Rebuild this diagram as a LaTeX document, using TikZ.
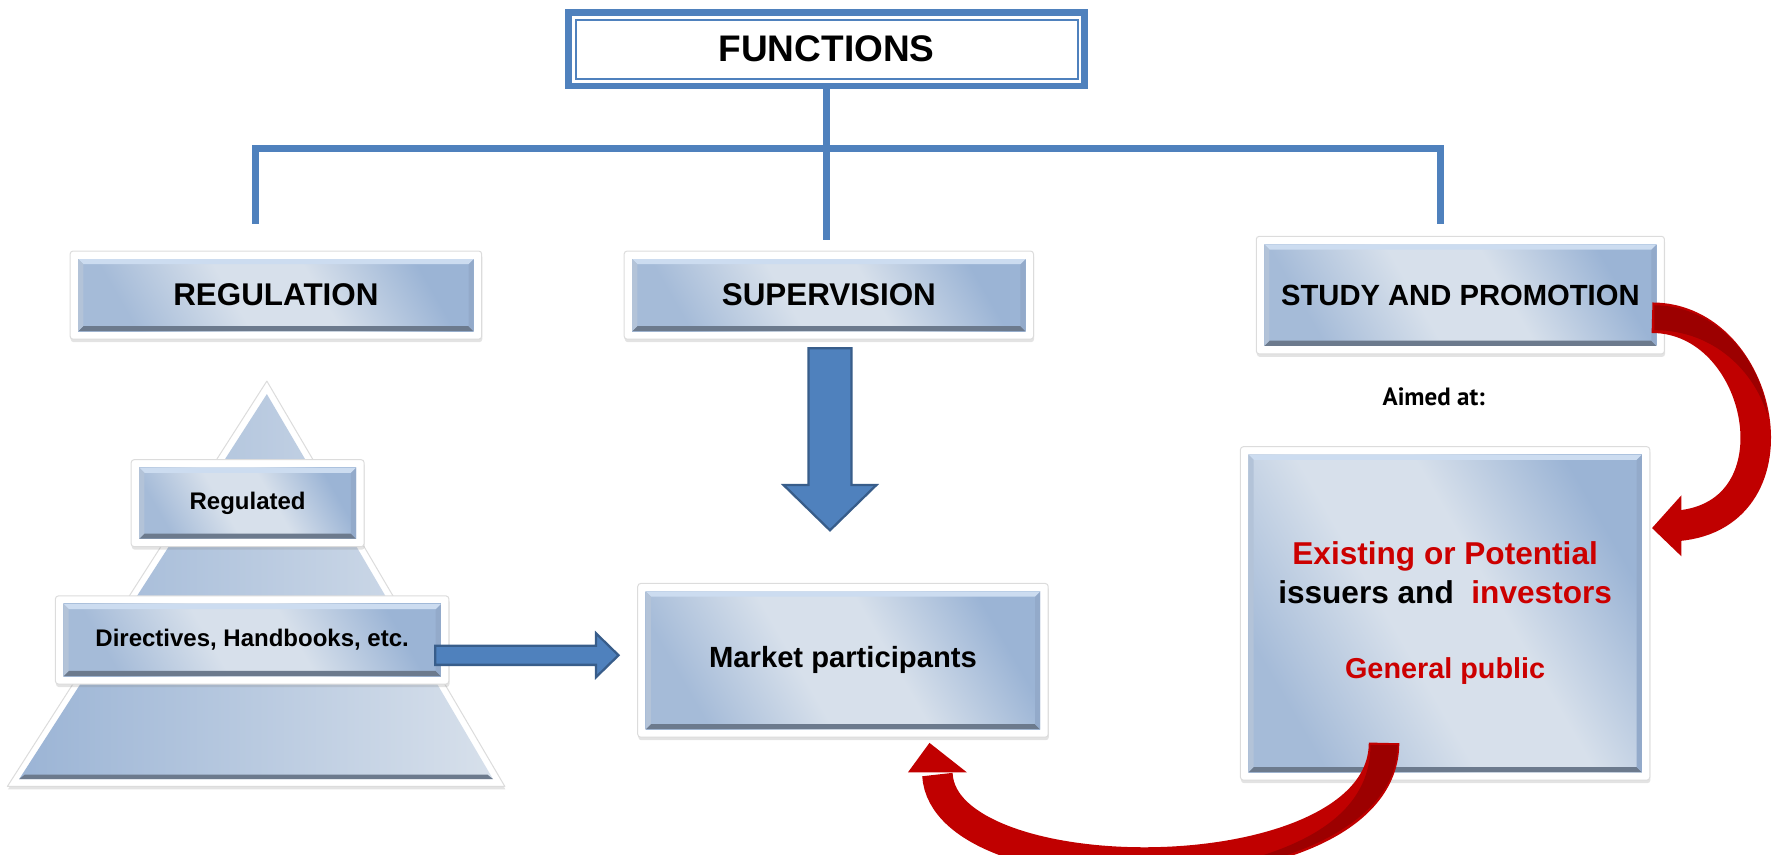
\documentclass[tikz,border=0pt]{standalone}
\usepackage{fontspec}
\setmainfont{Liberation Sans}
\newfontfamily\ptsans{PT Sans}
\usetikzlibrary{arrows.meta,shadows,calc}
\definecolor{fblue}{HTML}{4F81BD}
\definecolor{fbluedk}{HTML}{385D8A}
\definecolor{bxlight}{HTML}{D7E0EB}
\definecolor{bxdark}{HTML}{9BB4D5}
\definecolor{bxdarkb}{HTML}{A5BBD8}
\definecolor{bvtop}{HTML}{CCDCF0}
\definecolor{bvbot}{HTML}{6C7A8D}
\definecolor{bvleft}{HTML}{B3C3D8}
\definecolor{bvright}{HTML}{93AACA}
\definecolor{frame}{HTML}{DCDCDC}
\definecolor{rmain}{HTML}{C00000}
\definecolor{rdark}{HTML}{9C0000}
\definecolor{tred}{HTML}{CC0000}
\pgfdeclareverticalshading{bxshade}{100bp}{color(0bp)=(bxdarkb); color(25bp)=(bxdarkb); color(43bp)=(bxlight); color(57bp)=(bxlight); color(75bp)=(bxdark); color(100bp)=(bxdark)}
\def\U{0.5654pt}
\def\ins{4pt}
\def\bv{2.6pt}
\begin{document}
\begin{tikzpicture}[x=0.5654pt,y=-0.5654pt,
  tree/.style={draw=fblue, line width=6*\U},
  bevelbox/.style={rectangle, rounded corners=1.5pt, fill=white, draw=frame, line width=0.5pt,
    inner sep=0pt, outer sep=0pt, align=center,
    drop shadow={shadow xshift=0.3pt, shadow yshift=-1.5pt, opacity=0.22},
    path picture={
      \begin{scope}[sharp corners]
      \path ([shift={(\ins,\ins)}]path picture bounding box.south west) coordinate (pA)
            ([shift={(-\ins,-\ins)}]path picture bounding box.north east) coordinate (pC);
      \path (pC |- pA) coordinate (pB) (pA |- pC) coordinate (pD);
      \shade[shading=bxshade, shading angle=-60] (pA) rectangle (pC);
      \fill[bvbot] (pA) -- (pB) -- ([shift={(-\bv,\bv)}]pB) -- ([shift={(\bv,\bv)}]pA) -- cycle;
      \fill[bvright] (pB) -- (pC) -- ([shift={(-\bv,-\bv)}]pC) -- ([shift={(-\bv,\bv)}]pB) -- cycle;
      \fill[bvtop] (pC) -- (pD) -- ([shift={(\bv,-\bv)}]pD) -- ([shift={(-\bv,-\bv)}]pC) -- cycle;
      \fill[bvleft] (pD) -- (pA) -- ([shift={(\bv,\bv)}]pA) -- ([shift={(\bv,-\bv)}]pD) -- cycle;
      \end{scope}
    }},
  blockarrow/.style={fill=fblue, draw=fbluedk, line width=2*\U, line join=miter},
  redband/.style={draw=rmain, line width=27*\U},
  redhead/.style={fill=rmain},
  reddark/.style={fill=rdark},
  bigfont/.style={font=\bfseries\fontsize{15.7}{18}\selectfont},
  midfont/.style={font=\bfseries\fontsize{14.6}{17}\selectfont},
  smallfont/.style={font=\bfseries\fontsize{12}{14}\selectfont}
]
\useasboundingbox (0,0) rectangle (1568,756);
\clip (0,0) rectangle (1568,756);

% title
\node[draw=fblue, line width=6*\U, fill=white, minimum width=456*\U, minimum height=65*\U,
      inner sep=0pt, outer sep=0pt, font=\bfseries\fontsize{18.5}{20}\selectfont] (functions) at (731,43.5) {FUNCTIONS};
\draw[fblue, line width=1.8*\U] ([shift={(6,7)}]functions.north west) rectangle ([shift={(-6,-6)}]functions.south east);

% tree connectors
\coordinate (busL) at (226,131);
\coordinate (busR) at (1274,131);
\coordinate (dropL) at (226,198);
\coordinate (dropM) at (731,212);
\coordinate (dropR) at (1274,198);
\draw[tree] (functions.south) -- (dropM);
\draw[tree] (dropL) -- (busL) -- (busR) -- (dropR);

% pyramid
\filldraw[fill=white, draw=frame, line width=0.5pt, line join=round,
  drop shadow={shadow xshift=0.3pt, shadow yshift=-1.5pt, opacity=0.22}] (236,337) -- (6.5,695.5) -- (446.5,695.5) -- cycle;
\shade[left color=bxdark, right color=bxlight] (236,348.5) -- (17,689) -- (436,689) -- cycle;
\fill[bvbot] (17,689) -- (436,689) -- (431,685) -- (22,685) -- cycle;

% boxes
\node[bevelbox, bigfont, minimum width=364*\U, minimum height=78*\U] (regulation) at (244,261) {REGULATION};
\node[bevelbox, bigfont, minimum width=362*\U, minimum height=78*\U] (supervision) at (733,261) {SUPERVISION};
\node[bevelbox, midfont, minimum width=361*\U, minimum height=104*\U] (study) at (1291.5,261) {STUDY AND PROMOTION};
\node[font=\ptsans\bfseries\fontsize{12.5}{14}\selectfont] (aimed) at (1268,351) {Aimed at:};
\node[bevelbox, minimum width=362*\U, minimum height=295*\U, font=\bfseries\fontsize{15.8}{19.2}\selectfont] (aud) at (1278,542.5)
  {\textcolor{tred}{Existing or Potential}\\
   issuers and\ \ \textcolor{tred}{investors}\\[18.7pt]
   {\fontsize{14.4}{19.2}\selectfont\textcolor{tred}{General public}}};
\node[bevelbox, midfont, minimum width=363*\U, minimum height=136*\U] (market) at (745.5,584) {Market participants};
\node[bevelbox, smallfont, minimum width=206*\U, minimum height=77*\U] (regulated) at (219,445) {Regulated};
\node[bevelbox, smallfont, minimum width=348*\U, minimum height=78*\U] (directives) at (223,566) {Directives, Handbooks, etc.};

% blue block arrows
\draw[blockarrow] (715,308) -- (753,308) -- (753,429) -- (775,429) -- (734,469) -- (693,429) -- (715,429) -- cycle;
\draw[blockarrow] (385,571) -- (527,571) -- (527,560) -- (547,579.5) -- (527,599) -- (527,588) -- (385,588) -- cycle;

% red curved arrows
\coordinate (r1s) at (1461,281);
\coordinate (r1e) at (1484,465);
\draw[redband] (r1s) .. controls (1560,281) and (1595,455) .. (r1e);
\fill[reddark] (1463,270) .. controls (1517,270) and (1558,318) .. (1563,367) .. controls (1552,330) and (1517,292) .. (1463,292) -- cycle;
\fill[redhead] (1487,438) -- (1461,467) -- (1487,492) -- cycle;

\coordinate (r2s) at (1224,657);
\coordinate (r2e) at (829,685);
\draw[redband] (r2s) .. controls (1224,793) and (835,793) .. (r2e);
\fill[reddark] (1212,659) -- (1236,659) .. controls (1236,730) and (1132,772) .. (1029,774.5) .. controls (1120,763) and (1212,735) .. (1212,659) -- cycle;
\fill[redhead] (803,683) -- (822,657) -- (855,683) -- cycle;
\end{tikzpicture}
\end{document}
